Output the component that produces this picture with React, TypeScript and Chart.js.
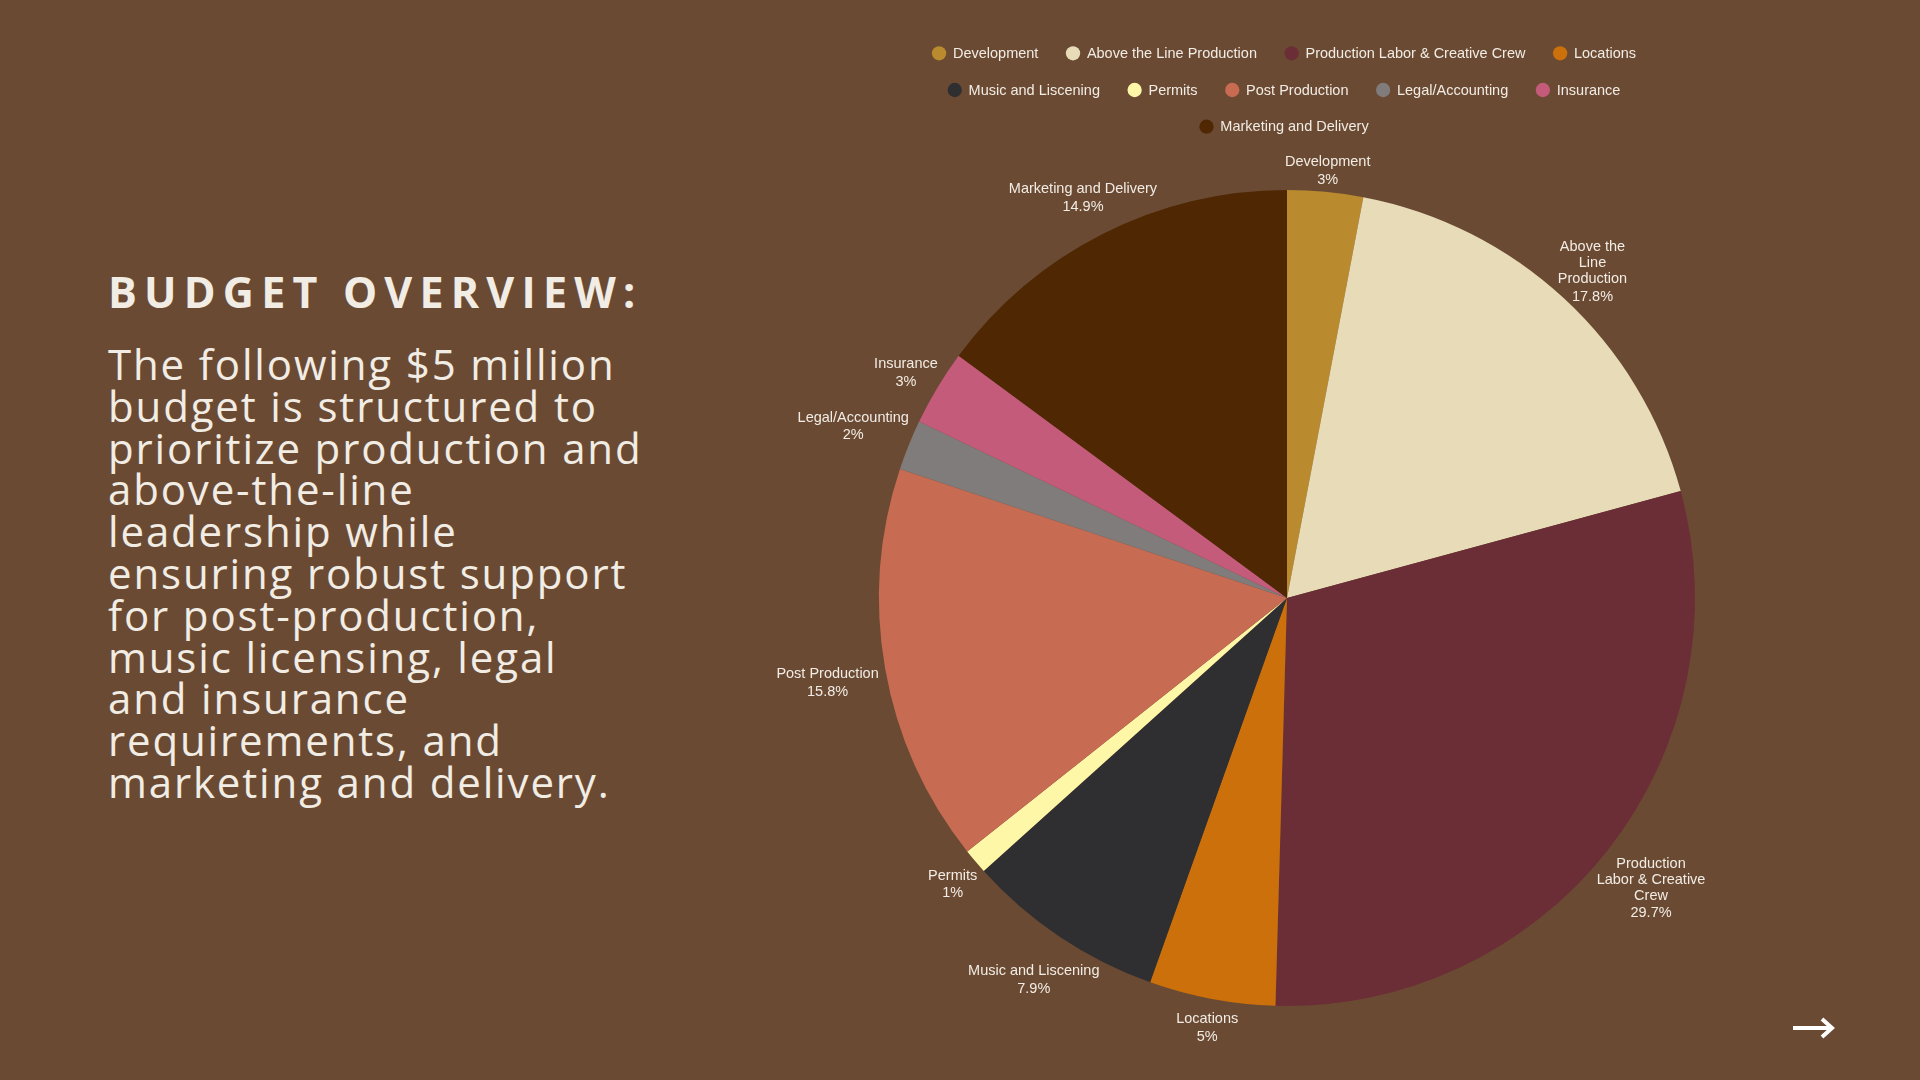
import React, { useEffect, useRef } from "react";
import { Chart, registerables } from "chart.js";

Chart.register(...registerables);

const categories = [
  "Development",
  "Above the Line Production",
  "Production Labor & Creative Crew",
  "Locations",
  "Music and Liscening",
  "Permits",
  "Post Production",
  "Legal/Accounting",
  "Insurance",
  "Marketing and Delivery",
];
const shares = [3, 17.8, 29.7, 5, 7.9, 1, 15.8, 2, 3, 14.9];
const labelLines = [
  ["Development"],
  ["Above the", "Line", "Production"],
  ["Production", "Labor & Creative", "Crew"],
  ["Locations"],
  ["Music and Liscening"],
  ["Permits"],
  ["Post Production"],
  ["Legal/Accounting"],
  ["Insurance"],
  ["Marketing and Delivery"],
];
const sliceColors = [
  "#BA8A2E",
  "#E8DCB8",
  "#6B2E37",
  "#CB700B",
  "#2F2F31",
  "#FFF7A8",
  "#C76B52",
  "#807C7B",
  "#C45B7B",
  "#4F2703",
];
const bodyLines = [
  "The following $5 million",
  "budget is structured to",
  "prioritize production and",
  "above-the-line",
  "leadership while",
  "ensuring robust support",
  "for post-production,",
  "music licensing, legal",
  "and insurance",
  "requirements, and",
  "marketing and delivery.",
];

const BG = "#6B4A33";
const TEXT = "#F1ECE4";
const FONT = '"Liberation Sans", Arial, sans-serif';
const FS = 14.5;
const LH = 16;
const PCT_GAP = 17.5;
const OFF = 8;
const LABEL_DY = 4;

// legend layout
const LEG_TOP = 53.3;
const LEG_ROW = 36.7;
const LEG_R = 7.15;
const LEG_TXT_GAP = 6.7;
const LEG_ITEM_GAP = 27.5;
const LEG_MAX_W = 760;
const LEG_DX = -3;

const rowLegend = {
  id: "rowLegend",
  afterDraw(chart: any) {
    const ctx = chart.ctx;
    const labels: string[] = chart.data.labels;
    const colors: string[] = chart.data.datasets[0].backgroundColor;
    ctx.save();
    ctx.font = `${FS}px ${FONT}`;
    const items = labels.map((l, i) => ({
      text: l,
      color: colors[i],
      w: LEG_R * 2 + LEG_TXT_GAP + ctx.measureText(l).width,
    }));
    const rows: any[][] = [];
    let cur: any[] = [];
    let curW = 0;
    items.forEach((it) => {
      const add = cur.length ? LEG_ITEM_GAP + it.w : it.w;
      if (cur.length && curW + add > LEG_MAX_W) {
        rows.push(cur);
        cur = [it];
        curW = it.w;
      } else {
        cur.push(it);
        curW += add;
      }
    });
    if (cur.length) rows.push(cur);
    const cxCenter = (chart.chartArea.left + chart.chartArea.right) / 2 + LEG_DX;
    ctx.textAlign = "left";
    ctx.textBaseline = "middle";
    rows.forEach((row, r) => {
      const total = row.reduce((s, it) => s + it.w, 0) + LEG_ITEM_GAP * (row.length - 1);
      let x = cxCenter - total / 2;
      const y = LEG_TOP + r * LEG_ROW;
      row.forEach((it) => {
        ctx.beginPath();
        ctx.arc(x + LEG_R, y, LEG_R, 0, Math.PI * 2);
        ctx.fillStyle = it.color;
        ctx.fill();
        ctx.fillStyle = TEXT;
        ctx.fillText(it.text, x + LEG_R * 2 + LEG_TXT_GAP, y + 0.5);
        x += it.w + LEG_ITEM_GAP;
      });
    });
    ctx.restore();
  },
};

const outsideLabels = {
  id: "outsideLabels",
  afterDatasetsDraw(chart: any) {
    const ctx = chart.ctx;
    const meta = chart.getDatasetMeta(0);
    ctx.save();
    ctx.font = `${FS}px ${FONT}`;
    ctx.fillStyle = TEXT;
    ctx.textAlign = "center";
    ctx.textBaseline = "middle";
    meta.data.forEach((arc: any, i: number) => {
      const { x, y, startAngle, endAngle, outerRadius } = arc.getProps(
        ["x", "y", "startAngle", "endAngle", "outerRadius"],
        true
      );
      const mid = (startAngle + endAngle) / 2;
      const vx = Math.cos(mid);
      const vy = Math.sin(mid);
      const names = labelLines[i];
      const pct = `${shares[i]}%`;
      const w = Math.max(...[...names, pct].map((l) => ctx.measureText(l).width));
      const h = names.length * LH + PCT_GAP;
      const d = Math.sqrt(((w / 2) * vx) ** 2 + ((h / 2) * vy) ** 2) + OFF;
      const cx = x + vx * (outerRadius + d);
      const cy = y + vy * (outerRadius + d) + LABEL_DY;
      const top = cy - h / 2;
      names.forEach((l, k) => ctx.fillText(l, cx, top + LH * (k + 0.5)));
      ctx.fillText(pct, cx, top + LH * (names.length - 0.5) + PCT_GAP);
    });
    ctx.restore();
  },
};

function PieChart() {
  const ref = useRef<HTMLCanvasElement | null>(null);
  useEffect(() => {
    if (!ref.current) return;
    const chart = new Chart(ref.current, {
      type: "pie",
      data: {
        labels: categories,
        datasets: [
          {
            data: shares,
            backgroundColor: sliceColors,
            borderWidth: 0,
            radius: 408,
          } as any,
        ],
      },
      options: {
        animation: false,
        responsive: true,
        maintainAspectRatio: false,
        layout: { padding: { top: 160, bottom: 44, left: 0, right: 0 } },
        plugins: {
          tooltip: { enabled: false },
          legend: { display: false },
        },
      },
      plugins: [outsideLabels, rowLegend],
    });
    return () => chart.destroy();
  }, []);
  return (
    <div style={{ position: "absolute", left: 702, top: 0, width: 1170, height: 1080 }}>
      <canvas ref={ref} />
    </div>
  );
}

export default function App() {
  return (
    <div
      style={{
        position: "fixed",
        left: 0,
        top: 0,
        width: 1920,
        height: 1080,
        background: BG,
        overflow: "hidden",
        fontFamily: '"Open Sans", sans-serif',
        color: TEXT,
      }}
    >
      <div
        style={{
          position: "absolute",
          left: 108,
          top: 270,
          fontSize: 43,
          lineHeight: "43px",
          fontWeight: 700,
          letterSpacing: 7.2,
          whiteSpace: "nowrap",
        }}
      >
        BUDGET OVERVIEW:
      </div>
      <div
        style={{
          position: "absolute",
          left: 108,
          top: 343,
          fontSize: 42,
          lineHeight: "41.8px",
          fontWeight: 400,
          letterSpacing: 1.85,
          whiteSpace: "nowrap",
        }}
      >
        {bodyLines.map((l, i) => (
          <div key={i}>{l}</div>
        ))}
      </div>
      <PieChart />
      <svg
        style={{ position: "absolute", left: 1790, top: 1014 }}
        width={48}
        height={28}
        viewBox="0 0 48 28"
      >
        <line x1={3} y1={14} x2={41} y2={14} stroke="#FFFFFF" strokeWidth={4} />
        <polyline points="32,5 42,14 32,23" fill="none" stroke="#FFFFFF" strokeWidth={4} />
      </svg>
    </div>
  );
}
